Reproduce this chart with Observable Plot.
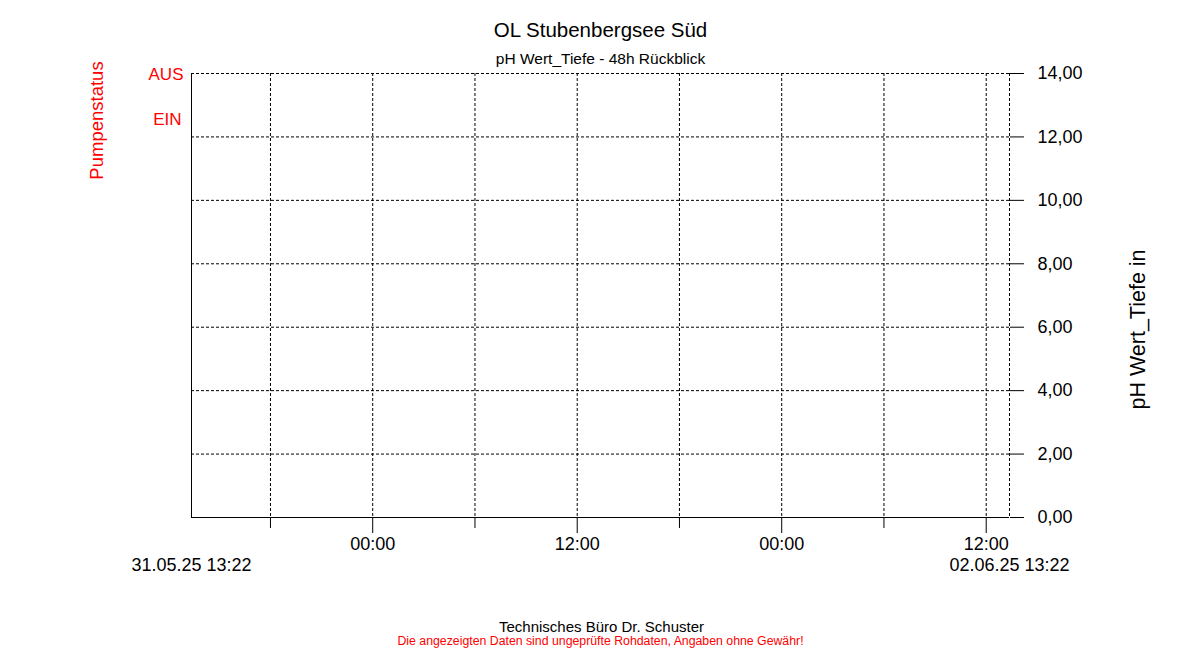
<!DOCTYPE html>
<html>
<head>
<meta charset="utf-8">
<script src="https://cdn.jsdelivr.net/npm/d3@7"></script>
<script src="https://cdn.jsdelivr.net/npm/@observablehq/plot@0.6"></script>
<style>
  html, body { margin: 0; padding: 0; background: #fff; }
  #chart { width: 1200px; height: 650px; }
</style>
</head>
<body>
<div id="chart"></div>
<script>
// ---- data ----
const title = "OL Stubenbergsee Süd";
const subtitle = "pH Wert_Tiefe - 48h Rückblick";
const yLabel = "pH Wert_Tiefe in";
const pumpAxisLabel = "Pumpenstatus";
const pumpLabels = ["AUS", "EIN"];
const footer1 = "Technisches Büro Dr. Schuster";
const footer2 = "Die angezeigten Daten sind ungeprüfte Rohdaten, Angaben ohne Gewähr!";
const startTime = "2025-05-31T13:22:00Z";
const endTime = "2025-06-02T13:22:00Z";
const startLabel = "31.05.25 13:22";
const endLabel = "02.06.25 13:22";
const majorTicks = ["2025-06-01T00:00:00Z", "2025-06-01T12:00:00Z", "2025-06-02T00:00:00Z", "2025-06-02T12:00:00Z"];
const minorTicks = ["2025-05-31T18:00:00Z", "2025-06-01T06:00:00Z", "2025-06-01T18:00:00Z", "2025-06-02T06:00:00Z"];
const yTicks = [0, 2, 4, 6, 8, 10, 12, 14];
const phValues = []; // no measurements in the 48h window

// ---- build ----
const t0 = new Date(startTime), t1 = new Date(endTime);
const major = majorTicks.map(d => new Date(d));
const minor = minorTicks.map(d => new Date(d));
const allTicks = [...minor, ...major];
const de = d3.formatLocale({decimal: ",", thousands: ".", grouping: [3], currency: ["", " €"]});
const fmtY = de.format(".2f");
const fmtX = d3.utcFormat("%H:%M");
const dash = "3,2";
const M = "middle";

const chart = Plot.plot({
  width: 1200,
  height: 650,
  marginLeft: 191,
  marginRight: 191,
  marginTop: 73,
  marginBottom: 133,
  style: {fontFamily: "'Liberation Sans', Arial, sans-serif", fontSize: "18px", color: "#000", background: "#fff"},
  x: {type: "utc", domain: [t0, t1], label: null},
  y: {domain: [0, 14], label: null},
  marks: [
    // grid
    Plot.ruleY(yTicks.filter(v => v > 0), {stroke: "#000", strokeDasharray: dash, strokeOpacity: 1}),
    Plot.ruleX(allTicks, {stroke: "#000", strokeDasharray: dash, strokeOpacity: 1}),
    Plot.ruleX([t1], {stroke: "#000", strokeDasharray: dash, strokeOpacity: 1}),
    // solid axes lines
    Plot.ruleX([t0], {stroke: "#000"}),
    Plot.ruleY([0], {stroke: "#000"}),
    // data line (empty)
    Plot.line(phValues, {x: "time", y: "value", stroke: "#00f"}),
    // right y axis
    Plot.axisY(yTicks, {anchor: "right", tickSize: 14, tickPadding: 14, tickFormat: fmtY, fontSize: 18, label: null}),
    // bottom x axis
    Plot.axisX(minor, {anchor: "bottom", tickSize: 11, tickFormat: () => "", label: null}),
    Plot.axisX(major, {anchor: "bottom", tickSize: 16, tickPadding: 4, tickFormat: fmtX, fontSize: 18, label: null}),
    // start / end labels
    Plot.text([startLabel], {x: [t0], frameAnchor: "bottom", lineAnchor: M, dy: 48, fontSize: 18, fill: "#000"}),
    Plot.text([endLabel], {x: [t1], frameAnchor: "bottom", lineAnchor: M, dy: 48, fontSize: 18, fill: "#000"}),
    // titles
    Plot.text([title], {frameAnchor: "top", lineAnchor: M, dy: -43, fontSize: 20.5, fill: "#000"}),
    Plot.text([subtitle], {frameAnchor: "top", lineAnchor: M, dy: -14, fontSize: 15.5, fill: "#000"}),
    // right y label
    Plot.text([yLabel], {frameAnchor: "right", textAnchor: M, lineAnchor: M, dx: 129, dy: 34, rotate: -90, fontSize: 21.5, fill: "#000"}),
    // pump status
    Plot.text([pumpAxisLabel], {frameAnchor: "top-left", textAnchor: M, lineAnchor: M, dx: -94, dy: 47, rotate: -90, fontSize: 18.5, fill: "#ff0000"}),
    Plot.text([pumpLabels[0]], {frameAnchor: "top-left", textAnchor: "end", lineAnchor: M, dx: -8, dy: 1, fontSize: 17, fill: "#ff0000"}),
    Plot.text([pumpLabels[1]], {frameAnchor: "top-left", textAnchor: "end", lineAnchor: M, dx: -10, dy: 46, fontSize: 17, fill: "#ff0000"}),
    // footer
    Plot.text([footer1], {x: [t0], frameAnchor: "bottom", textAnchor: M, lineAnchor: M, dx: 410, dy: 110, fontSize: 15, fill: "#000"}),
    Plot.text([footer2], {frameAnchor: "bottom", lineAnchor: M, dy: 124, fontSize: 12.3, fill: "#ff0000"})
  ]
});
document.getElementById("chart").appendChild(chart);
</script>
</body>
</html>
